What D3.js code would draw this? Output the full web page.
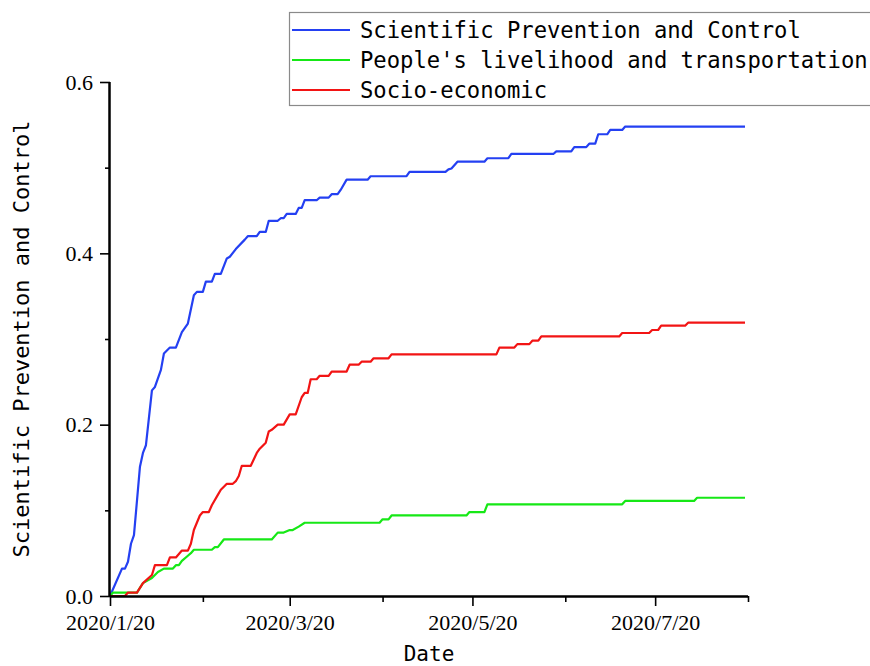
<!DOCTYPE html>
<html>
<head>
<meta charset="utf-8">
<script src="https://cdn.jsdelivr.net/npm/d3@7"></script>
<style>
  html, body { margin: 0; padding: 0; background: #fff; }
  svg { display: block; }
</style>
</head>
<body>
<svg id="chart" width="870" height="666"></svg>
<script>
// ---------------- data (day offset from 2020/1/20, value) ----------------
const startDate = [2020, 0, 20];
const seriesNames = ["Scientific Prevention and Control", "People's livelihood and transportation", "Socio-economic"];
const xMajorTickDays = [0, 60, 121, 182];
const xMajorTickLabels = ["2020/1/20", "2020/3/20", "2020/5/20", "2020/7/20"];
const xMinorTickDays = [31, 91, 152, 213];
const yMajorTicks = [0, 0.2, 0.4, 0.6];
const yMinorTicks = [0.1, 0.3, 0.5];

const scientific = [
  [0,0.000],[4,0.032],[5,0.032],[6,0.040],[7,0.061],[8,0.071],[10,0.151],[11,0.167],[12,0.176],
  [14,0.240],[15,0.244],[17,0.264],[18,0.283],[20,0.290],[22,0.290],[24,0.308],[26,0.318],
  [28,0.351],[29,0.355],[31,0.355],[32,0.367],[34,0.367],[35,0.376],[37,0.376],[39,0.394],
  [40,0.396],[42,0.405],[45,0.416],[46,0.420],[49,0.420],[50,0.425],[52,0.425],[53,0.438],
  [56,0.438],[57,0.441],[58,0.441],[59,0.446],[62,0.446],[63,0.453],[64,0.453],[65,0.462],
  [69,0.462],[70,0.465],[73,0.465],[74,0.469],[76,0.469],[77,0.474],[79,0.486],[86,0.486],
  [87,0.490],[99,0.490],[100,0.495],[112,0.495],[113,0.498],[114,0.499],[116,0.507],[125,0.507],
  [126,0.511],[133,0.511],[134,0.516],[148,0.516],[149,0.519],[154,0.519],[155,0.524],[159,0.524],
  [160,0.528],[162,0.528],[163,0.539],[166,0.539],[167,0.544],[171,0.544],[172,0.548],[212,0.548]
];

const livelihood = [
  [0,0.000],[1,0.004],[9,0.004],[11,0.015],[14,0.021],[16,0.028],[18,0.032],[21,0.032],[22,0.036],
  [23,0.036],[24,0.041],[26,0.047],[27,0.050],[28,0.054],[34,0.054],[35,0.057],[36,0.057],
  [38,0.066],[54,0.066],[56,0.074],[58,0.074],[60,0.077],[61,0.077],[63,0.081],[65,0.0855],
  [90,0.0855],[91,0.0895],[93,0.0895],[94,0.094],[119,0.094],[120,0.098],[125,0.098],[126,0.107],
  [171,0.107],[172,0.111],[195,0.111],[196,0.1147],[212,0.1147]
];

const socioEconomic = [
  [0,0.000],[5,0.000],[6,0.004],[9,0.004],[11,0.015],[14,0.0245],[15,0.036],[19,0.036],[20,0.045],
  [22,0.045],[24,0.053],[26,0.053],[27,0.061],[28,0.077],[30,0.094],[31,0.098],[33,0.098],
  [34,0.106],[36,0.118],[37,0.124],[39,0.131],[41,0.131],[42,0.134],[43,0.140],[44,0.152],
  [47,0.152],[49,0.167],[50,0.172],[52,0.179],[53,0.192],[54,0.194],[56,0.200],[58,0.200],
  [60,0.212],[62,0.212],[64,0.232],[65,0.237],[66,0.237],[67,0.253],[69,0.253],[70,0.257],
  [73,0.257],[74,0.262],[79,0.262],[80,0.270],[83,0.270],[84,0.2735],[87,0.2735],[88,0.2775],
  [93,0.2775],[94,0.282],[129,0.282],[130,0.290],[135,0.290],[136,0.294],[140,0.294],[141,0.298],
  [143,0.298],[144,0.303],[170,0.303],[171,0.307],[180,0.307],[181,0.3105],[183,0.3105],
  [184,0.3155],[192,0.3155],[193,0.319],[212,0.319]
];

const seriesColors = ["#2440f2", "#16e816", "#f21414"];

// ---------------- drawing ----------------
(function () {
const svg = d3.select("#chart");
const t0 = new Date(startDate[0], startDate[1], startDate[2]);
const day = d => d3.timeDay.offset(t0, d);

const pLeft = 110, pRight = 748, pTop = 82, pBottom = 596;

const x = d3.scaleTime().domain([day(0), day(213)]).range([pLeft, pRight]);
const y = d3.scaleLinear().domain([0, 0.6]).range([pBottom, pTop]);

const serifFont = "'Liberation Serif', 'Times New Roman', serif";
const monoFont = "'DejaVu Sans Mono', 'Liberation Mono', monospace";

// lines
const line = d3.line().x(d => x(day(d[0]))).y(d => y(d[1]));
const allSeries = [scientific, livelihood, socioEconomic];
allSeries.forEach((s, i) => {
  svg.append("path")
    .datum(s)
    .attr("fill", "none")
    .attr("stroke", seriesColors[i])
    .attr("stroke-width", 2.2)
    .attr("stroke-linejoin", "round")
    .attr("d", line);
});

// x axis
const xAxisMinor = d3.axisBottom(x).tickValues(xMinorTickDays.map(day)).tickSize(6).tickFormat("");
const gxm = svg.append("g").attr("transform", `translate(0,${pBottom})`).call(xAxisMinor);
const xAxis = d3.axisBottom(x)
  .tickValues(xMajorTickDays.map(day))
  .tickSize(10)
  .tickPadding(5)
  .tickFormat((d, i) => xMajorTickLabels[i]);
const gx = svg.append("g").attr("transform", `translate(0,${pBottom})`).call(xAxis);

// y axis
const yAxisMinor = d3.axisLeft(y).tickValues(yMinorTicks).tickSize(5).tickFormat("");
const gym = svg.append("g").attr("transform", `translate(${pLeft},0)`).call(yAxisMinor);
const yAxis = d3.axisLeft(y).tickValues(yMajorTicks).tickSize(10).tickPadding(7).tickFormat(d3.format(".1f"));
const gy = svg.append("g").attr("transform", `translate(${pLeft},0)`).call(yAxis);

[gx, gxm, gy, gym].forEach(g => {
  g.select(".domain").attr("stroke", "#000").attr("stroke-width", 2);
  g.selectAll(".tick line").attr("stroke", "#000").attr("stroke-width", 1.6);
});
gxm.select(".domain").attr("d", `M${pLeft},0.5H${pRight}`);
gx.select(".domain").attr("d", `M${pLeft},0.5H${pRight}`);
gym.select(".domain").attr("d", `M-0.5,${pBottom}V${pTop}`);
gy.select(".domain").attr("d", `M-0.5,${pBottom}V${pTop}`);

gx.selectAll(".tick text")
  .attr("font-family", serifFont).attr("font-size", 22).attr("fill", "#000")
  .attr("dy", "0.85em");
gy.selectAll(".tick text")
  .attr("font-family", serifFont).attr("font-size", 22).attr("fill", "#000");

// axis titles
svg.append("text")
  .attr("x", (pLeft + pRight) / 2).attr("y", 661)
  .attr("text-anchor", "middle")
  .attr("font-family", monoFont).attr("font-size", 21).attr("fill", "#000")
  .text("Date");

svg.append("text")
  .attr("transform", `translate(29,${(pTop + pBottom) / 2}) rotate(-90)`)
  .attr("text-anchor", "middle")
  .attr("font-family", monoFont).attr("font-size", 22).attr("fill", "#000")
  .text(seriesNames[0]);

// legend
const legend = svg.append("g");
legend.append("rect")
  .attr("x", 289.5).attr("y", 12.5).attr("width", 600).attr("height", 93)
  .attr("fill", "#fff").attr("stroke", "#8a8a8a").attr("stroke-width", 1.2);
seriesNames.forEach((name, i) => {
  const ly = 30 + i * 30;
  legend.append("line")
    .attr("x1", 292).attr("x2", 350).attr("y1", ly).attr("y2", ly)
    .attr("stroke", seriesColors[i]).attr("stroke-width", 2.2);
  legend.append("text")
    .attr("x", 360).attr("y", ly).attr("dy", "0.36em")
    .attr("font-family", monoFont).attr("font-size", 22.2).attr("fill", "#000")
    .text(name);
});
})();
</script>
</body>
</html>
